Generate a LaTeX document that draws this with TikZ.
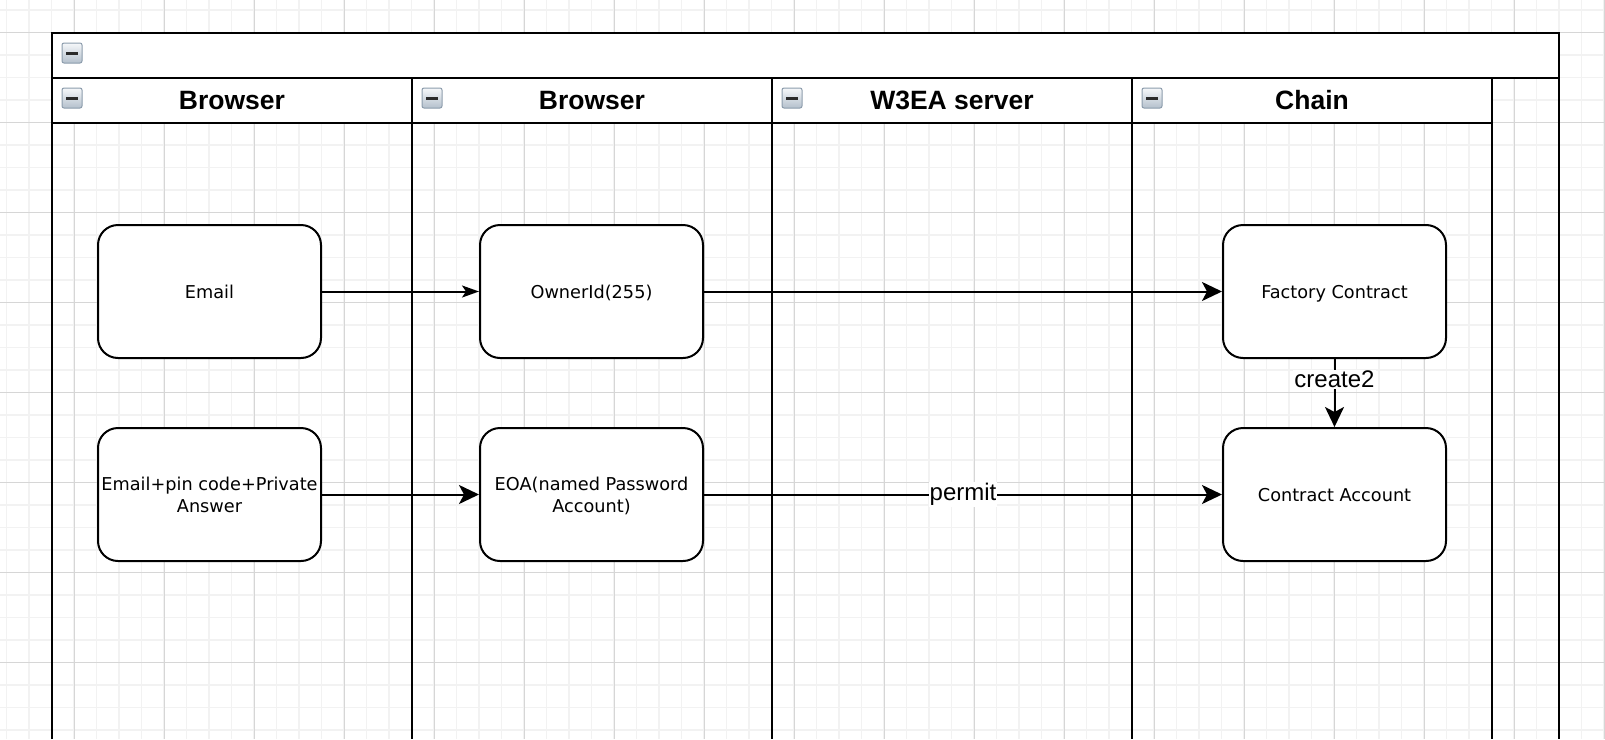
\documentclass[tikz,border=0pt]{standalone}
\usepackage{fontspec}
\usetikzlibrary{arrows.meta}
\newfontfamily\boxfont{DejaVu Sans}
\newfontfamily\arfont{Liberation Sans}
\definecolor{minorgrid}{HTML}{F2F2F2}
\definecolor{majorgrid}{HTML}{D6D6D6}
\definecolor{iconborder}{HTML}{8C9CAC}
\definecolor{icontop}{HTML}{F6F8FA}
\definecolor{iconbot}{HTML}{B4C0CC}
\definecolor{iconminus}{HTML}{2A2A2A}
\newcommand\mkicon[2]{%
  \draw[draw=iconborder, line width=1pt, top color=icontop, bottom color=iconbot, rounded corners=2pt] (#1,#2) rectangle ++(20,20);
  \draw[iconminus, line width=3pt] (#1+4,#2+10) -- ++(12,0);
}
\begin{document}
\begin{tikzpicture}[x=1pt,y=-1pt,
  frame/.style={line width=2pt, black},
  box/.style={draw, line width=2pt, rounded corners=20pt, fill=white, minimum width=223pt, minimum height=133pt, inner sep=0pt, text depth=0pt, align=center, font=\boxfont\fontsize{17.7}{21.7}\selectfont},
  lanehead/.style={font=\arfont\bfseries\fontsize{26.5}{30}\selectfont, inner sep=0pt},
  arr/.style={line width=2pt, -{Stealth[length=20pt,width=19pt,inset=5pt]}},
  arrsmall/.style={line width=2pt, -{Stealth[length=17pt,width=12pt,inset=4pt]}},
  elabel/.style={fill=white, inner sep=1pt, font=\arfont\fontsize{24}{28}\selectfont}]
\useasboundingbox (0,0) rectangle (1605,739);
\fill[white] (0,0) rectangle (1605,739);
% grid
\foreach \i in {0,...,71} { \draw[minorgrid, line width=1.5pt] ({6.5+22.5*\i},0) -- ({6.5+22.5*\i},739); }
\foreach \j in {0,...,32} { \draw[minorgrid, line width=1.5pt] (0,{9.8+22.5*\j}) -- (1605,{9.8+22.5*\j}); }
\foreach \i in {0,...,17} { \draw[majorgrid, line width=1pt] ({74+90*\i},0) -- ({74+90*\i},739); }
\foreach \j in {0,...,7} { \draw[majorgrid, line width=1pt] (0,{32.3+90*\j}) -- (1605,{32.3+90*\j}); }
% pool and lanes
\fill[white] (52,33) rectangle (1559,78);
\fill[white] (52,78) rectangle (1492,123);
\draw[frame] (52,739) -- (52,33) -- (1559,33) -- (1559,739);
\draw[frame] (52,78) -- (1559,78);
\draw[frame] (52,123) -- (1492,123);
\foreach \x in {412,772,1132,1492} { \draw[frame] (\x,78) -- (\x,739); }
\mkicon{62}{43}
\mkicon{62}{88}
\mkicon{422}{88}
\mkicon{782}{88}
\mkicon{1142}{88}
\node[lanehead] (h1) at (232,100.5) {Browser};
\node[lanehead] (h2) at (592,100.5) {Browser};
\node[lanehead] (h3) at (952,100.5) {W3EA server};
\node[lanehead] (h4) at (1312,100.5) {Chain};
% nodes
\node[box] (email) at (209.5,291.5) {Email};
\node[box] (owner) at (591.5,291.5) {OwnerId(255)};
\node[box] (factory) at (1334.5,291.5) {Factory Contract};
\node[box] (emailpin) at (209.5,494.5) {Email+pin code+Private\\Answer};
\node[box] (eoa) at (591.5,494.5) {EOA(named Password\\Account)};
\node[box] (contract) at (1334.5,494.5) {Contract Account};
% connectors
\draw[arrsmall] (email.east) -- (owner.west);
\draw[arr] (owner.east) -- (factory.west);
\draw[arr] (emailpin.east) -- (eoa.west);
\draw[arr] (eoa.east) -- node[elabel, pos=0.5] {permit} (contract.west);
\draw[arr] (factory.south) -- node[elabel, pos=0.3] {create2} (contract.north);
\end{tikzpicture}
\end{document}
